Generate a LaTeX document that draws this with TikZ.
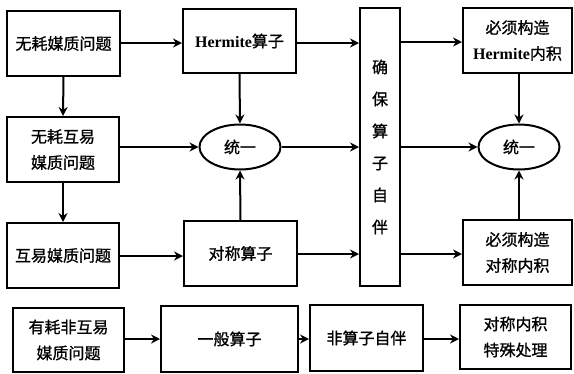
\documentclass[tikz,border=0pt]{standalone}
\usepackage{fontspec}
\setmainfont{Liberation Serif}
\newfontfamily\cjk[FakeBold=1]{Noto Sans CJK SC}
\usetikzlibrary{arrows.meta,shapes.geometric}
\begin{document}
\begin{tikzpicture}[x=1pt,y=-1pt,
  box/.style={draw,line width=2pt,inner sep=0pt,align=center,
    font=\cjk\fontsize{16}{26}\selectfont},
  oval/.style={draw,ellipse,line width=2pt,inner sep=0pt,minimum width=81pt,minimum height=45pt,
    font=\cjk\fontsize{16}{26}\selectfont},
  arr/.style={line width=2pt,-{Stealth[length=9pt,width=9pt]}},
  lat/.style={}]
\useasboundingbox (0,0) rectangle (574,373);
% left column
\node[box,minimum width=113pt,minimum height=65pt] (n1) at (63.5,43.5) {无耗媒质问题};
\node[box,minimum width=112pt,minimum height=65pt] (n2) at (63,149.5) {无耗互易\\媒质问题};
\node[box,minimum width=112pt,minimum height=65pt] (n3) at (63,255.5) {互易媒质问题};
% operators
\node[box,minimum width=113pt,minimum height=64pt] (h) at (239.5,41) {{\rmfamily\bfseries\fontsize{16}{26}\selectfont Hermite}算子};
\node[oval] (u1) at (240,147) {统一};
\node[box,minimum width=113pt,minimum height=65pt] (s) at (240.5,253.5) {对称算子};
% tall box
\node[box,minimum width=40pt,minimum height=278pt,font=\cjk\fontsize{16}{32}\selectfont] (t) at (380,147) {确\\保\\算\\子\\自\\伴};
% right column
\node[box,minimum width=109pt,minimum height=65pt] (r1) at (517.5,40.5) {必须构造\\{\rmfamily\bfseries\fontsize{16}{26}\selectfont Hermite}内积};
\node[oval] (u2) at (519,147) {统一};
\node[box,minimum width=109pt,minimum height=65pt] (r3) at (517.5,252.5) {必须构造\\对称内积};
% bottom row
\node[box,minimum width=111pt,minimum height=64pt] (b1) at (68.5,340) {有耗非互易\\媒质问题};
\node[box,minimum width=137pt,minimum height=66pt] (b2) at (229.5,339) {一般算子};
\node[box,minimum width=113pt,minimum height=66pt] (b3) at (366.5,338) {非算子自伴};
\node[box,minimum width=111pt,minimum height=64pt] (b4) at (515.5,337) {对称内积\\特殊处理};
% connectors
\draw[arr] (n1.east |- 0,43) -- (h.west |- 0,43);
\draw[arr] (h.east |- 0,43) -- (t.west |- 0,43);
\draw[arr] (t.east |- 0,42) -- (r1.west |- 0,42);
\draw[arr] (n1.south) -- (n2.north);
\draw[arr] (n2.south) -- (n3.north);
\draw[arr] (n2.east |- u1) -- (u1.west);
\draw[arr] (u1.east) -- (t.west |- u1);
\draw[arr] (t.east |- u2) -- (u2.west);
\draw[arr] (h.south) -- (u1.north);
\draw[arr] (s.north) -- (u1.south);
\draw[arr] (n3.east |- 0,256) -- (s.west |- 0,256);
\draw[arr] (s.east |- 0,254) -- (t.west |- 0,254);
\draw[arr] (t.east |- 0,254) -- (r3.west |- 0,254);
\draw[arr] (u2.north |- r1.south) -- (u2.north);
\draw[arr] (u2.south |- r3.north) -- (u2.south);
\draw[arr] (b1.east |- 0,339) -- (b2.west |- 0,339);
\draw[arr] (b2.east |- 0,339) -- (b3.west |- 0,339);
\draw[arr] (b3.east |- 0,339) -- (b4.west |- 0,339);
\end{tikzpicture}
\end{document}
